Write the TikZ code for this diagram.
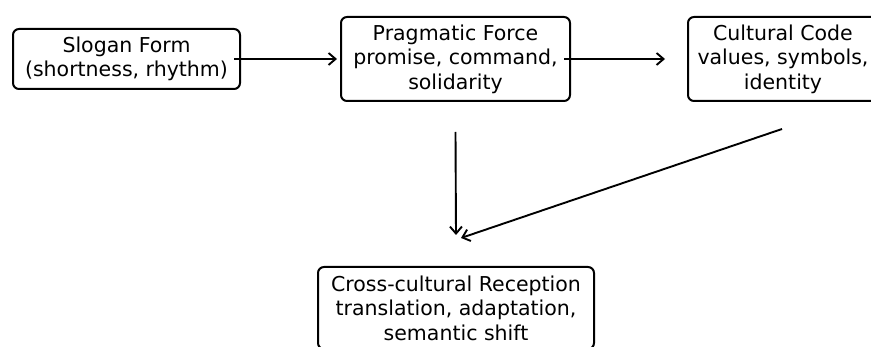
\documentclass[tikz,border=0pt]{standalone}
\usepackage{fontspec}
\setmainfont{DejaVu Sans}
\usetikzlibrary{arrows.meta}
\begin{document}
\begin{tikzpicture}[x=1pt,y=-1pt,
  box/.style={draw=black, line width=2pt, rounded corners=6pt, align=center,
    font=\fontsize{20.5}{24.5}\selectfont, text=black, inner sep=0pt},
  arr/.style={line width=1.9pt, draw=black, -{Straight Barb[length=7pt,width=12pt,line width=1.9pt]}}]
\useasboundingbox (0,0) rectangle (871,347);
\node[box, minimum width=227pt, minimum height=60pt] (b1) at (126.5,59) {Slogan Form\\(shortness, rhythm)};
\node[box, minimum width=229pt, minimum height=84pt] (b2) at (455.5,59) {Pragmatic Force\\promise, command,\\solidarity};
\node[box, minimum width=190pt, minimum height=84pt] (b3) at (783,59) {Cultural Code\\values, symbols,\\identity};
\node[box, minimum width=276pt, minimum height=82pt] (b4) at (456,308) {Cross-cultural Reception\\translation, adaptation,\\semantic shift};
\draw[arr] ([xshift=-7pt]b1.east) -- ([xshift=-3pt]b2.west);
\draw[arr] ([xshift=-7pt]b2.east) -- ([xshift=-22pt]b3.west);
\draw[arr] ([yshift=-30pt]b2.south) -- ([yshift=31pt]b4.north);
\draw[arr] ([xshift=-1pt,yshift=-27pt]b3.south) -- ([xshift=5pt,yshift=28pt]b4.north);
\end{tikzpicture}
\end{document}
